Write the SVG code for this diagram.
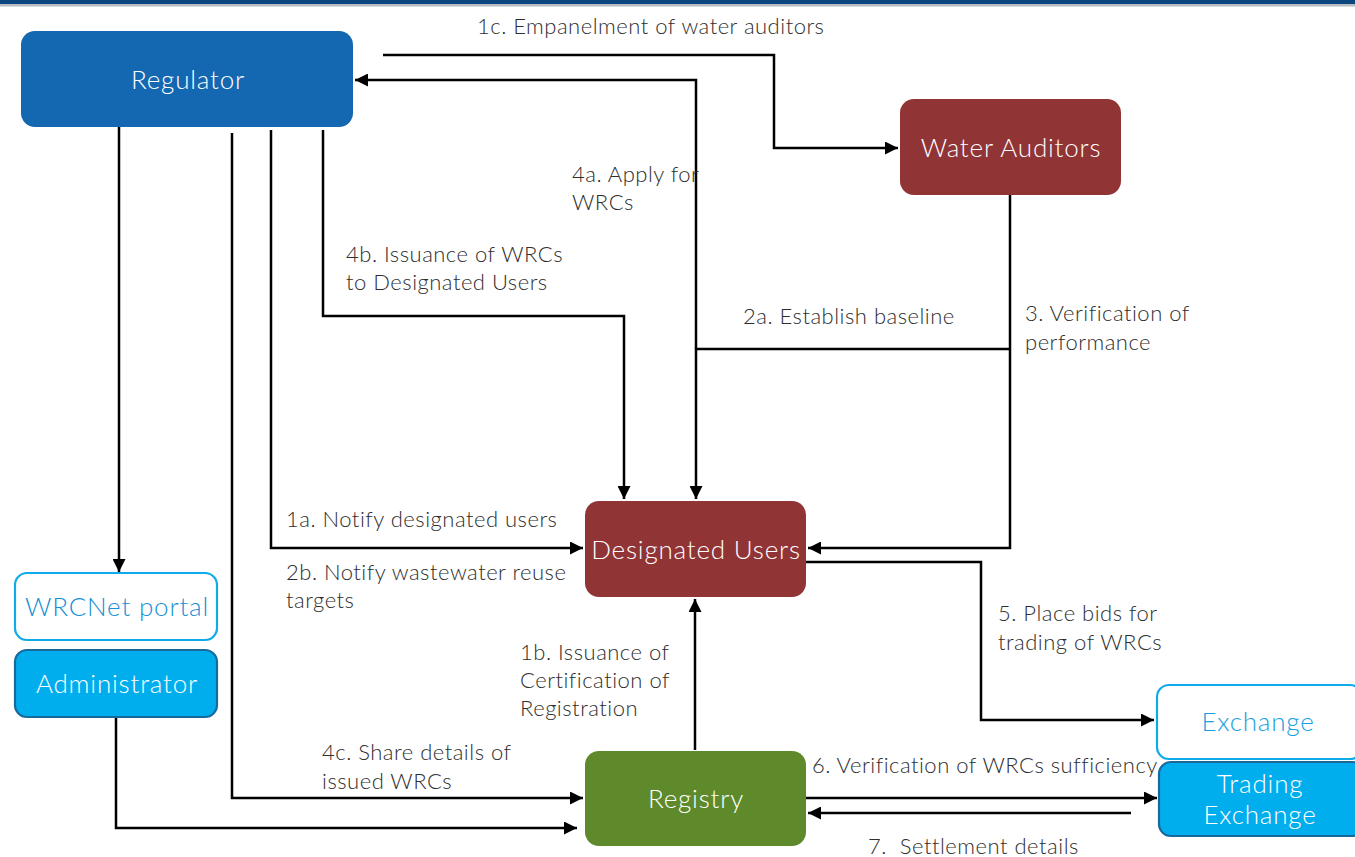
<svg xmlns="http://www.w3.org/2000/svg" width="1355" height="857" viewBox="0 0 1355 857">
<defs>
<marker id="ah" viewBox="0 0 10 10" refX="10" refY="5" markerWidth="6" markerHeight="5.2" markerUnits="strokeWidth" orient="auto">
<path d="M0,0 L10,5 L0,10 z" fill="#000"/>
</marker>
<style>
.n{font-family:Lato,"Liberation Sans",sans-serif;font-weight:300;font-size:26px;letter-spacing:0.8px;fill:#fff;text-anchor:middle;dominant-baseline:central}
.lb{font-family:Lato,"Liberation Sans",sans-serif;font-weight:300;font-size:22px;letter-spacing:0.5px;fill:#2e2e2e}
.c{fill:none;stroke:#000;stroke-width:2.5}
.ca{fill:none;stroke:#000;stroke-width:2.5;marker-end:url(#ah)}
.red{fill:#913436}
</style>
</defs>
<rect x="0" y="0" width="1355" height="857" fill="#fff"/>
<rect x="0" y="0" width="1355" height="4" fill="#0b467f"/>
<rect x="0" y="4" width="1355" height="2.5" fill="#b8bcc2"/>

<g id="connectors">
<path class="ca" d="M119,127 V572"/>
<path class="ca" d="M232,133 V798 H583"/>
<path class="ca" d="M271,130 V548 H583"/>
<path class="ca" d="M323,130 V316 H624 V499"/>
<path class="ca" d="M383,55 H774 V148 H898"/>
<path class="ca" d="M696,240 V80 H355"/>
<path class="c" d="M696,240 V349"/>
<path class="ca" d="M1010,349 H696 V499"/>
<path class="ca" d="M1010,195 V548 H808"/>
<path class="ca" d="M806,562 H981 V720 H1154"/>
<path class="ca" d="M695,750 V599"/>
<path class="ca" d="M806,798 H1157"/>
<path class="ca" d="M1131,813 H808"/>
<path class="ca" d="M116,717 V828 H577"/>
</g>

<g id="regulator">
<rect x="21" y="31" width="332" height="96" rx="14" fill="#1467b1"/>
<text class="n" x="188" y="79">Regulator</text>
</g>
<g id="water-auditors">
<rect class="red" x="900" y="99" width="221" height="96" rx="14"/>
<text class="n" x="1011" y="147">Water Auditors</text>
</g>
<g id="designated-users">
<rect class="red" x="585" y="501" width="221" height="96" rx="14"/>
<text class="n" x="696" y="549">Designated Users</text>
</g>
<g id="registry">
<rect x="585" y="751" width="221" height="95" rx="14" fill="#5e8a2b"/>
<text class="n" x="696" y="798">Registry</text>
</g>
<g id="wrcnet-portal">
<rect x="15" y="573" width="202" height="67" rx="12" fill="#fff" stroke="#0fabe8" stroke-width="2.2"/>
<text class="n" x="117" y="606" style="fill:#168fd4">WRCNet portal</text>
</g>
<g id="administrator">
<rect x="15" y="650" width="202" height="67" rx="12" fill="#01aeed" stroke="#17699c" stroke-width="2.2"/>
<text class="n" x="117" y="683">Administrator</text>
</g>
<g id="exchange">
<rect x="1157" y="685" width="205" height="74" rx="12" fill="#fff" stroke="#0fabe8" stroke-width="2.2"/>
<text class="n" x="1258" y="721" style="fill:#189ee0">Exchange</text>
</g>
<g id="trading-exchange">
<rect x="1159" y="762" width="205" height="74" rx="12" fill="#01aeed" stroke="#17699c" stroke-width="2.2"/>
<text class="n" x="1260" y="783">Trading</text>
<text class="n" x="1260" y="814">Exchange</text>
</g>

<g id="labels">
<text class="lb" x="477" y="34">1c. Empanelment of water auditors</text>
<text class="lb" x="572" y="182">4a. Apply for</text>
<text class="lb" x="572" y="210">WRCs</text>
<text class="lb" x="346" y="262">4b. Issuance of WRCs</text>
<text class="lb" x="346" y="290">to Designated Users</text>
<text class="lb" x="743" y="324">2a. Establish baseline</text>
<text class="lb" x="1025" y="321">3. Verification of</text>
<text class="lb" x="1025" y="350">performance</text>
<text class="lb" x="286" y="527">1a. Notify designated users</text>
<text class="lb" x="286" y="580">2b. Notify wastewater reuse</text>
<text class="lb" x="286" y="608">targets</text>
<text class="lb" x="998" y="621">5. Place bids for</text>
<text class="lb" x="998" y="650">trading of WRCs</text>
<text class="lb" x="520" y="660">1b. Issuance of</text>
<text class="lb" x="520" y="688">Certification of</text>
<text class="lb" x="520" y="716">Registration</text>
<text class="lb" x="322" y="760">4c. Share details of</text>
<text class="lb" x="322" y="789">issued WRCs</text>
<text class="lb" x="812" y="773">6. Verification of WRCs sufficiency</text>
<text class="lb" x="868" y="854" xml:space="preserve">7.  Settlement details</text>
</g>
</svg>
